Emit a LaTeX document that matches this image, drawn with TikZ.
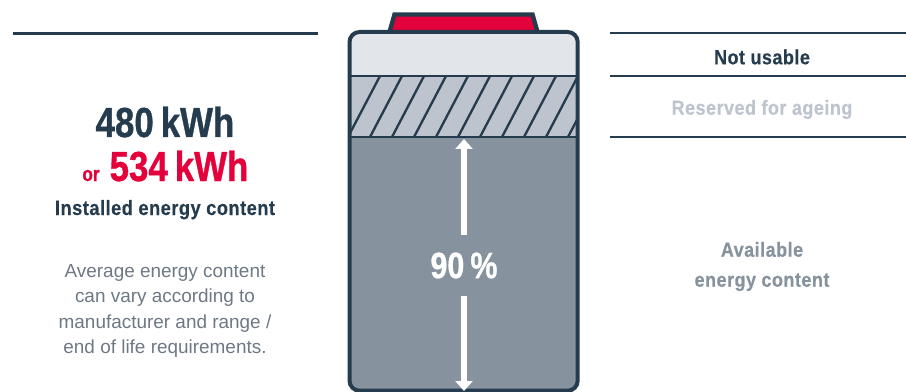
\documentclass[tikz,border=0pt]{standalone}
\usepackage{fontspec}
\setmainfont{Liberation Sans}
\newfontfamily\narrowfont[UprightFont=* Bold, FakeStretch=0.83, FakeBold=0.8]{Liberation Sans}
\newfontfamily\labelfont[UprightFont=* Bold, FakeStretch=0.88, FakeBold=0.35, LetterSpace=2.5]{Liberation Sans}
\usetikzlibrary{arrows.meta}
\definecolor{battdark}{HTML}{253C4E}
\definecolor{battred}{HTML}{E4003A}
\definecolor{battlight}{HTML}{E2E5EA}
\definecolor{battmid}{HTML}{BEC4CE}
\definecolor{battgrey}{HTML}{87929F}
\definecolor{bodytext}{HTML}{6E7884}

\begin{document}
\begin{tikzpicture}[
  x=0.75pt, y=-0.75pt,
  rule/.style={battdark, line width=2pt},
  outline/.style={battdark, line width=3pt},
  hatch/.style={battdark, line width=1.75pt},
  arr/.style={white, line width=3.9pt, -{Triangle[width=12.75pt,length=7.5pt]}},
  big/.style={anchor=base, font=\narrowfont\fontsize{31.5}{31.5}\selectfont},
  lbl/.style={font=\labelfont\fontsize{15.3}{22.5}\selectfont},
  note/.style={font=\fontsize{14.2}{19.2}\selectfont, text=bodytext, align=center},
]
\useasboundingbox (0,0) rectangle (906,392);

% ---- Battery cap ----
\draw[outline, fill=battred, line width=3.3pt] (389.5,32) -- (394.5,14.5) -- (532.5,14.5) -- (537.5,32);

% ---- Battery body ----
\begin{scope}
  \clip[rounded corners=7.5pt] (349.5,32) rectangle (577.7,390.7);
  \fill[battlight] (349,32) rectangle (578,76);
  \fill[battmid] (349,76) rectangle (578,137);
  \fill[battgrey] (349,137) rectangle (578,391);
  \clip (349,76) rectangle (578,137);
  \foreach \k in {-1,...,9}
    \draw[hatch] ({370+22*\k},137) -- ({402+22*\k},76);
\end{scope}
\draw[rule] (349,76) -- (578,76);
\draw[rule] (349,137) -- (578,137);
\draw[outline, rounded corners=7.5pt] (349.5,32) rectangle (577.7,390.7);

% ---- Percentage with arrows ----
\node[font=\narrowfont\fontsize{27.5}{27.5}\selectfont, text=white, inner sep=0pt,
      minimum height=45.75pt] (pct) at (464,265.5) {\raisebox{-1.1pt}{90\,\%}};
\coordinate (pcttop) at (464,139);
\coordinate (pctbot) at (464,391);
\draw[arr] (pct.north) -- (pcttop);
\draw[arr] (pct.south) -- (pctbot);

% ---- Left column ----
\coordinate (lefta) at (13,33.5);
\coordinate (leftb) at (318,33.5);
\draw[rule] (lefta) -- (leftb);
\node[big, text=battdark] (installed) at (165,137) {480\,kWh};
\node[big, text=battred] (upper) at (179,181) {534\,kWh};
\node[anchor=base, font=\narrowfont\fontsize{15.5}{15.5}\selectfont, text=battred] (alt) at (91,181) {or};
\node[anchor=base, font=\labelfont\fontsize{15.5}{15.5}\selectfont, text=battdark] (caption) at (165,215) {Installed energy content};
\node[note] (remark) at (165,311)
  {Average energy content\\can vary according to\\manufacturer and range /\\end of life requirements.};

% ---- Right column ----
\coordinate (righta) at (610,33);
\coordinate (rightb) at (906,33);
\coordinate (rightc) at (610,76);
\coordinate (rightd) at (906,76);
\coordinate (righte) at (610,137);
\coordinate (rightf) at (906,137);
\draw[rule] (righta) -- (rightb);
\draw[rule] (rightc) -- (rightd);
\draw[rule] (righte) -- (rightf);
\node[lbl, text=battdark] (notusable) at (762,57) {Not usable};
\node[lbl, text=battmid] (reserved) at (762,109.5) {Reserved for ageing};
\node[lbl, text=battgrey, align=center] (available) at (762,266.5)
  {Available\\energy content};
\end{tikzpicture}
\end{document}
